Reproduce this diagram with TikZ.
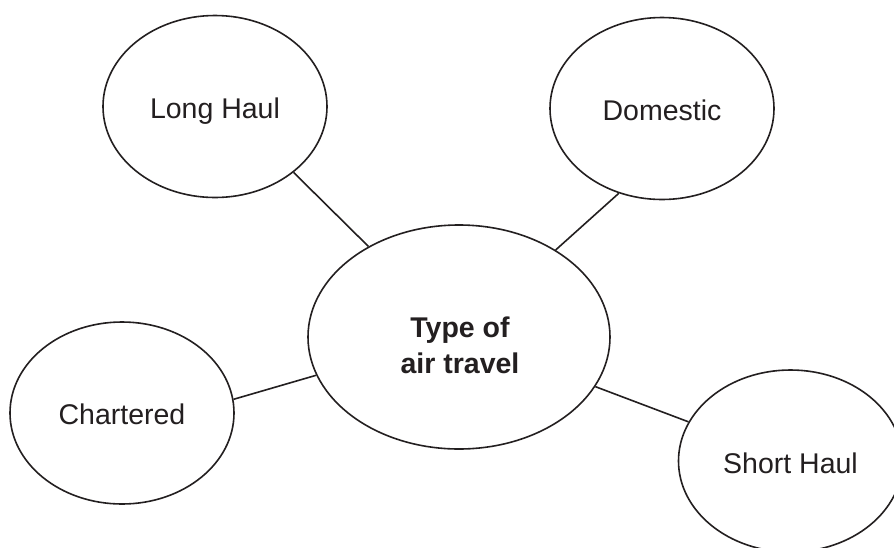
\documentclass[tikz,border=0pt]{standalone}
\usepackage{fontspec}
\setmainfont{Liberation Sans}
\usetikzlibrary{shapes.geometric}
\definecolor{ink}{HTML}{231F20}
\tikzset{
  bubble/.style={draw=ink, line width=1.6pt, ellipse, inner sep=0pt,
    minimum width=224pt, minimum height=182pt},
  hub/.style={bubble, minimum width=302pt, minimum height=224pt},
  lbl/.style={anchor=base, text=ink, inner sep=0pt, font=\fontsize{28.5}{36}\selectfont},
  hublbl/.style={lbl, font=\fontsize{28.5}{36}\selectfont\bfseries},
  link/.style={draw=ink, line width=1.6pt}
}
\begin{document}
\begin{tikzpicture}[x=1pt, y=-1pt]
\useasboundingbox (0,0) rectangle (894,547);
\clip (0,0) rectangle (894,547);
\fill[white] (0,0) rectangle (894,547);
\node[bubble] (lh) at (215,106.5) {};
\node[bubble] (dom) at (662,108.5) {};
\node[bubble] (ch) at (122,413) {};
\node[bubble] (sh) at (790.5,461) {};
\node[hub] (hub) at (459,337) {};
\node[lbl] (lht) at ([yshift=-12pt]lh.center) {Long Haul};
\node[lbl] (domt) at ([yshift=-12pt]dom.center) {Domestic};
\node[lbl] (cht) at ([yshift=-11pt]ch.center) {Chartered};
\node[lbl] (sht) at ([yshift=-12pt]sh.center) {Short Haul};
\node[hublbl] (hubt1) at ([xshift=1pt]hub.center) {Type of};
\node[hublbl] (hubt2) at ([xshift=1pt,yshift=-36.3pt]hub.center) {air travel};
\draw[link] (lh.-40.4) -- (hub.135.9);
\draw[link] (dom.-117.8) -- (hub.42.8);
\draw[link] (ch.7.2) -- (hub.195.5);
\draw[link] (sh.159) -- (hub.-20.3);
\end{tikzpicture}
\end{document}
